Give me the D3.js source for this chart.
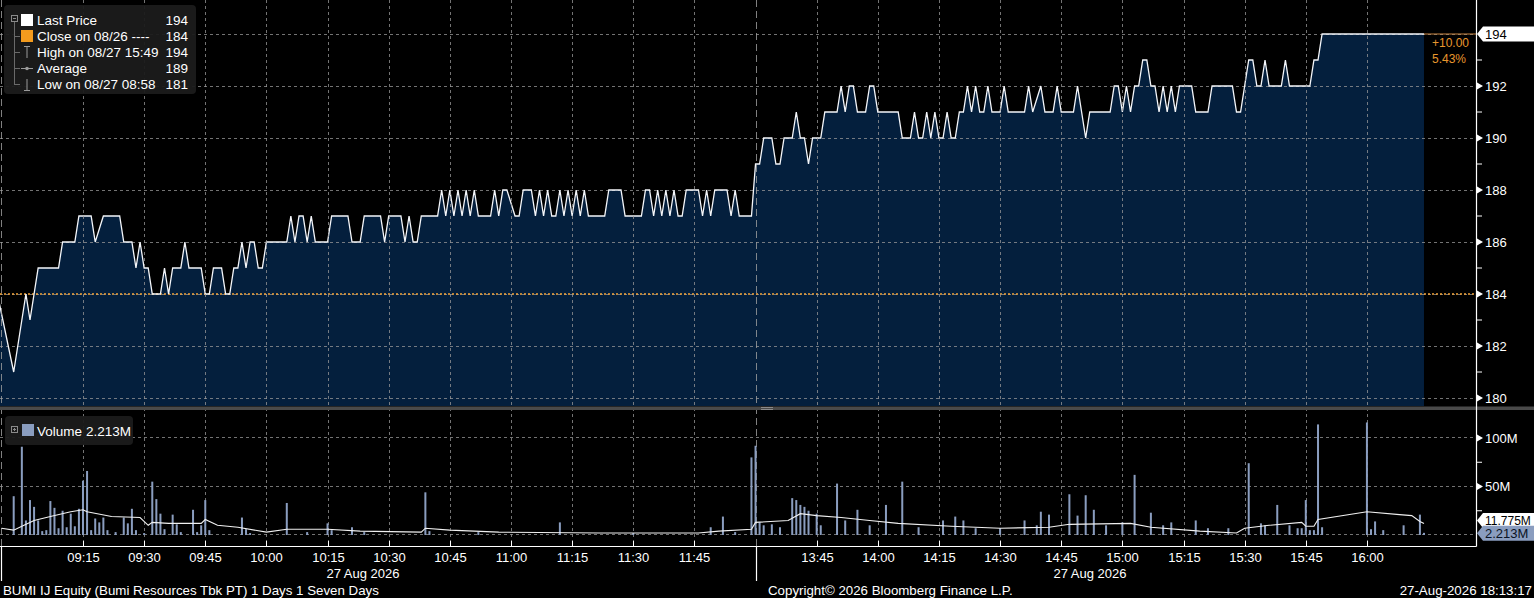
<!DOCTYPE html>
<html><head><meta charset="utf-8">
<script src="https://cdn.jsdelivr.net/npm/d3@7/dist/d3.min.js"></script>
<style>
html,body{margin:0;padding:0;background:#000;overflow:hidden;}
svg{display:block;}
text{font-family:"Liberation Sans",Arial,sans-serif;}
</style></head><body>
<svg id="c" width="1534" height="598"></svg>
<script>
// ---------------- DATA ----------------
const pricePoints = [
["08:54",184],["08:58",181],["09:01",184],["09:02",183],["09:04",185],["09:09",185],["09:10",186],["09:13",186],["09:14",187],["09:17",187],["09:18",186],["09:20",187],["09:24",187],["09:25",186],["09:27",186],["09:28",185],["09:29",186],["09:30",185],["09:31",185],["09:32",184],["09:34",184],["09:35",185],["09:36",184],["09:37",185],["09:39",185],["09:40",186],["09:41",185],["09:44",185],["09:45",184],["09:46",184],["09:47",185],["09:49",185],["09:50",184],["09:51",184],["09:52",185],["09:53",185],["09:54",186],["09:55",185],["09:56",186],["09:57",186],["09:58",185],["09:59",185],["10:00",186],["10:05",186],["10:06",187],["10:07",186],["10:08",187],["10:09",187],["10:10",186],["10:11",187],["10:12",186],["10:15",186],["10:16",187],["10:20",187],["10:21",186],["10:23",186],["10:24",187],["10:28",187],["10:29",186],["10:30",187],["10:33",187],["10:34",186],["10:35",187],["10:36",186],["10:37",186],["10:38",187],["10:42",187],["10:43",188],["10:44",187],["10:45",188],["10:46",187],["10:47",188],["10:48",187],["10:49",188],["10:50",187],["10:51",188],["10:52",187],["10:55",187],["10:56",188],["10:57",187],["10:58",188],["10:59",188],["11:01",187],["11:02",187],["11:03",188],["11:05",188],["11:06",187],["11:07",188],["11:08",187],["11:09",188],["11:10",187],["11:11",187],["11:12",188],["11:13",187],["11:14",188],["11:15",187],["11:16",188],["11:17",187],["11:18",188],["11:19",187],["11:23",187],["11:24",188],["11:27",188],["11:28",187],["11:32",187],["11:33",188],["11:34",188],["11:35",187],["11:36",188],["11:37",187],["11:38",188],["11:39",187],["11:40",188],["11:41",187],["11:42",187],["11:43",188],["11:46",188],["11:47",187],["11:48",188],["11:49",187],["11:50",188],["11:53",188],["11:54",187],["11:55",188],["11:56",187],["11:59",187],
["13:30",189],["13:31",189],["13:32",190],["13:34",190],["13:35",189],["13:36",189],["13:37",190],["13:39",190],["13:40",191],["13:41",190],["13:42",190],["13:43",189],["13:44",190],["13:46",190],["13:47",191],["13:50",191],["13:51",192],["13:52",191],["13:53",192],["13:54",192],["13:55",191],["13:57",191],["13:58",192],["13:59",192],["14:00",191],["14:05",191],["14:06",190],["14:08",190],["14:09",191],["14:10",190],["14:11",190],["14:12",191],["14:13",190],["14:14",191],["14:15",190],["14:16",190],["14:17",191],["14:18",190],["14:19",190],["14:20",191],["14:21",191],["14:22",192],["14:23",191],["14:24",192],["14:25",191],["14:26",191],["14:27",192],["14:28",191],["14:30",191],["14:31",192],["14:32",191],["14:36",191],["14:37",192],["14:38",191],["14:40",192],["14:41",191],["14:43",191],["14:44",192],["14:45",191],["14:48",191],["14:49",192],["14:51",190],["14:52",191],["14:57",191],["14:58",192],["14:59",192],["15:00",191],["15:01",192],["15:02",191],["15:03",192],["15:04",192],["15:05",193],["15:06",193],["15:07",192],["15:08",192],["15:09",191],["15:10",192],["15:11",191],["15:12",192],["15:13",191],["15:14",192],["15:17",192],["15:18",191],["15:21",191],["15:22",192],["15:27",192],["15:28",191],["15:29",191],["15:30",192],["15:31",193],["15:32",193],["15:33",192],["15:34",192],["15:35",193],["15:36",192],["15:39",192],["15:40",193],["15:41",192],["15:46",192],["15:47",193],["15:48",193],["15:49",194],["16:14",194]
];
const prevClose = 184;
const lastPrice = 194;

const volTimes = ["08:58","09:00","09:01","09:02","09:03","09:04","09:05","09:06","09:07","09:08","09:09","09:10","09:11","09:12","09:13","09:14","09:15","09:16","09:17","09:18","09:19","09:20","09:21","09:23","09:25","09:26","09:27","09:28","09:30","09:32","09:33","09:34","09:35","09:37","09:38","09:39","09:42","09:43","09:44","09:45","09:46","09:54","09:55","09:56","10:05","10:10","10:15","10:16","10:21","10:24","10:39","10:40","10:52","11:12","11:30","11:49","11:52","11:55","11:59",
"13:30","13:31","13:32","13:34","13:36","13:39","13:40","13:41","13:42","13:43","13:45","13:46","13:50","13:52","13:55","13:58","14:02","14:06","14:10","14:16","14:19","14:21","14:24","14:30","14:36","14:39","14:40","14:42","14:47","14:49","14:51","14:53","14:56","15:00","15:03","15:07","15:10","15:12","15:18","15:21","15:26","15:31","15:34","15:35","15:38","15:41","15:43","15:44","15:45","15:46","15:47","15:48","15:49","16:00","16:01","16:02","16:04","16:09","16:13","16:14"];
const volValues = [40,91,15,36,29,15,4,5,35,28,7,25,8,22,9,27,56,66,5,17,13,18,5,3,18,12,27,5,2,55,37,22,6,21,11,3,26,3,10,36,5,18,6,2,33,3,12,5,8,3,44,4,3,13,2,8,19,3,80,
92,13,10,11,8,38,36,31,29,25,22,10,53,15,26,10,31,55,8,15,19,15,7,7,15,10,24,21,42,20,41,26,10,13,62,23,10,13,15,7,7,74,12,10,31,10,7,7,36,5,5,114,8,116,6,14,5,10,21,2.213];

const avgTimes = ["08:55","08:58","09:00","09:03","09:07","09:12","09:15","09:16","09:22","09:29","09:31","09:32","09:36","09:44","09:45","09:48","09:53","10:00","10:05","10:15","10:23","10:38","10:39","10:45","10:57","11:22","11:46","11:51","11:59",
"13:30","13:38","13:41","13:45","13:51","13:58","14:05","14:18","14:30","14:42","14:47","15:02","15:07","15:19","15:28","15:30","15:36","15:44","15:45","15:47","15:48","16:00","16:08","16:11","16:13","16:14"];
const avgValues = [7,5,9,15,19,24,26,24,19,18,10,13,12,12,16,10,8,3,6,6,4,3,7,5,3,2,2,4,6,
13,15,22,20,18,15,12,9,7,8,11,12,8,4,2,7,10,13,9,9,16,24,21,20,14,11.775];

const xTickLabels = ["09:15","09:30","09:45","10:00","10:15","10:30","10:45","11:00","11:15","11:30","11:45","13:45","14:00","14:15","14:30","14:45","15:00","15:15","15:30","15:45","16:00"];
const priceTicks = [180,182,184,186,188,190,192,194];
const priceMinorTicks = [181,183,185,187,189,191,193];
const volTicks = [50,100];
const volMinorTicks = [25,75];
const sessionStarts = ["08:55","13:30"];
const legendLabels = ["Last Price","Close on 08/26 ----","High on 08/27 15:49","Average","Low on 08/27 08:58"];
const legendValues = ["194","184","194","189","181"];
const dateLabel = "27 Aug 2026";
const footerLeft = "BUMI IJ Equity (Bumi Resources Tbk PT) 1 Days 1 Seven Days";
const footerMid = "Copyright\u00A9 2026 Bloomberg Finance L.P.";
const footerRight = "27-Aug-2026 18:13:17";

// ---------------- SCALES ----------------
// trading-minute axis (lunch break 12:00-13:30 collapsed)
function tm(s){const p=s.split(":").map(Number);const t=p[0]*60+p[1];
  return t>=13*60+30 ? t-(13*60+30)+185 : t-(8*60+55);}
const AX=1476;
const x=d3.scaleLinear().domain([-0.36,361.76]).range([0,AX]);
const yP=d3.scaleLinear().domain([180,194]).range([398,34]);
const yV=d3.scaleLinear().domain([0,100]).range([535,438]);
const PB=406, VT=410, VB=546;

const svg=d3.select("#c");
svg.append("rect").attr("width",1534).attr("height",598).attr("fill","#000");
const defs=svg.append("defs");
defs.append("clipPath").attr("id","cp").append("rect").attr("x",0).attr("y",0).attr("width",AX).attr("height",PB);
defs.append("clipPath").attr("id","cv").append("rect").attr("x",0).attr("y",VT).attr("width",AX).attr("height",VB-VT);

const gridCol="#9a9a9a";
// ---------------- PRICE PANEL ----------------
const gp=svg.append("g").attr("clip-path","url(#cp)");
gp.append("path").datum(pricePoints)
  .attr("d",d3.area().x(d=>x(tm(d[0]))).y0(PB).y1(d=>yP(d[1])))
  .attr("fill","#041f3d");
gp.selectAll(".hg").data(priceTicks).join("line")
  .attr("x1",0).attr("x2",AX).attr("y1",d=>Math.round(yP(d))+0.5).attr("y2",d=>Math.round(yP(d))+0.5)
  .attr("stroke",gridCol).attr("stroke-opacity",0.75).attr("stroke-dasharray","3,3");
const vg=svg.append("g");
vg.selectAll("line").data(xTickLabels).join("line")
  .attr("x1",d=>Math.round(x(tm(d)))+0.5).attr("x2",d=>Math.round(x(tm(d)))+0.5)
  .attr("y1",0).attr("y2",VB)
  .attr("stroke",gridCol).attr("stroke-opacity",0.75).attr("stroke-dasharray","3,3");
svg.selectAll(".sess").data(sessionStarts).join("line")
  .attr("x1",d=>Math.round(x(tm(d)))+0.5).attr("x2",d=>Math.round(x(tm(d)))+0.5)
  .attr("y1",0).attr("y2",VB)
  .attr("stroke","#a0a0a0").attr("stroke-opacity",0.8).attr("stroke-dasharray","7,4");
gp.append("line").attr("x1",0).attr("x2",AX).attr("y1",yP(prevClose)).attr("y2",yP(prevClose))
  .attr("stroke","#f2a43a").attr("stroke-width",1.5).attr("stroke-dasharray","2,2");
const lastP=pricePoints[pricePoints.length-1];
gp.append("line").attr("x1",x(tm(lastP[0]))).attr("x2",AX).attr("y1",yP(lastPrice)).attr("y2",yP(lastPrice))
  .attr("stroke","#c98542").attr("stroke-width",1.2);
gp.append("path").datum(pricePoints)
  .attr("d",d3.line().x(d=>x(tm(d[0]))).y(d=>yP(d[1])))
  .attr("fill","none").attr("stroke","#f4f6fa").attr("stroke-width",1.3).attr("stroke-linejoin","miter");

svg.append("text").attr("x",1432).attr("y",47).attr("fill","#e8972e").attr("font-size",12).text("+10.00");
svg.append("text").attr("x",1432).attr("y",63).attr("fill","#e8972e").attr("font-size",12).text("5.43%");

// ---------------- VOLUME PANEL ----------------
const gv=svg.append("g").attr("clip-path","url(#cv)");
gv.selectAll(".vh").data([0].concat(volTicks)).join("line")
  .attr("x1",0).attr("x2",AX).attr("y1",d=>Math.round(yV(d))-0.5).attr("y2",d=>Math.round(yV(d))-0.5)
  .attr("stroke",gridCol).attr("stroke-opacity",0.75).attr("stroke-dasharray","3,3");
const vols=volTimes.map((t,i)=>({t,v:volValues[i]}));
gv.selectAll(".bar").data(vols).join("rect")
  .attr("x",d=>x(tm(d.t))-1).attr("width",2)
  .attr("y",d=>yV(d.v)).attr("height",d=>yV(0)-yV(d.v))
  .attr("fill","#8a9dbf");
const avg=avgTimes.map((t,i)=>({t,v:avgValues[i]}));
gv.append("path").datum(avg)
  .attr("d",d3.line().x(d=>x(tm(d.t))).y(d=>yV(d.v)))
  .attr("fill","none").attr("stroke","#f0f0f0").attr("stroke-width",1.1);

svg.append("rect").attr("x",0).attr("y",406.5).attr("width",1534).attr("height",3.5).attr("fill","#4a4a4a");
svg.append("line").attr("x1",761).attr("x2",773).attr("y1",407.5).attr("y2",407.5).attr("stroke","#8a8a8a");
svg.append("line").attr("x1",761).attr("x2",773).attr("y1",409.5).attr("y2",409.5).attr("stroke","#8a8a8a");

// ---------------- RIGHT AXES ----------------
svg.append("line").attr("x1",AX+0.5).attr("x2",AX+0.5).attr("y1",0).attr("y2",VB+0.5).attr("stroke","#fff").attr("stroke-width",1.2);
function tri(g,y){g.append("path").attr("d",`M${AX+1},${y-3.5}L${AX+7},${y}L${AX+1},${y+3.5}Z`).attr("fill","#fff");}
const ra=svg.append("g");
priceTicks.filter(d=>d!==lastPrice).forEach(d=>{const y=yP(d);tri(ra,y);
  ra.append("text").attr("x",AX+9).attr("y",y).attr("dy","0.35em").attr("fill","#fff").attr("font-size",13).text(d);});
priceMinorTicks.forEach(d=>{ra.append("line").attr("x1",AX).attr("x2",AX+6).attr("y1",yP(d)).attr("y2",yP(d)).attr("stroke","#fff");});
volTicks.forEach(d=>{const y=yV(d);tri(ra,y);
  ra.append("text").attr("x",AX+9).attr("y",y).attr("dy","0.35em").attr("fill","#fff").attr("font-size",13).text(d+"M");});
volMinorTicks.forEach(d=>{ra.append("line").attr("x1",AX).attr("x2",AX+6).attr("y1",yV(d)).attr("y2",yV(d)).attr("stroke","#fff");});
function tag(y,fill,txt,tc,fs){
  ra.append("path").attr("d",`M${AX+1},${y}L${AX+7},${y-7.5}L1534,${y-7.5}L1534,${y+7.5}L${AX+7},${y+7.5}Z`).attr("fill",fill);
  ra.append("text").attr("x",AX+9).attr("y",y).attr("dy","0.35em").attr("fill",tc).attr("font-size",fs||13).text(txt);}
tag(yP(lastPrice),"#ffffff",String(lastPrice),"#000");
tag(yV(avgValues[avgValues.length-1])-3,"#ffffff","11.775M","#000",12);
tag(yV(volValues[volValues.length-1])+0.5,"#8a9dbf","2.213M","#0b1424");

// ---------------- BOTTOM AXIS ----------------
svg.append("line").attr("x1",0).attr("x2",AX+0.5).attr("y1",VB+0.5).attr("y2",VB+0.5).attr("stroke","#fff").attr("stroke-width",1.2);
const ba=svg.append("g");
xTickLabels.forEach(t=>{const xx=Math.round(x(tm(t)))+0.5;
  ba.append("line").attr("x1",xx).attr("x2",xx).attr("y1",VB-5).attr("y2",VB).attr("stroke","#fff");
  ba.append("text").attr("x",xx).attr("y",557).attr("dy","0.35em").attr("text-anchor","middle").attr("fill","#fff").attr("font-size",13).text(t);});
sessionStarts.forEach(t=>{const xx=Math.round(x(tm(t)))+0.5;
  ba.append("line").attr("x1",xx).attr("x2",xx).attr("y1",VB).attr("y2",581).attr("stroke","#fff").attr("stroke-width",1.2);});
ba.append("text").attr("x",363).attr("y",573).attr("dy","0.35em").attr("text-anchor","middle").attr("fill","#fff").attr("font-size",13).text(dateLabel);
ba.append("text").attr("x",1090).attr("y",573).attr("dy","0.35em").attr("text-anchor","middle").attr("fill","#fff").attr("font-size",13).text(dateLabel);
ba.append("text").attr("x",3).attr("y",590).attr("dy","0.35em").attr("fill","#fff").attr("font-size",13.3).text(footerLeft);
ba.append("text").attr("x",768).attr("y",590).attr("dy","0.35em").attr("fill","#fff").attr("font-size",13.3).text(footerMid);
ba.append("text").attr("x",1532).attr("y",590).attr("dy","0.35em").attr("text-anchor","end").attr("fill","#fff").attr("font-size",13.3).text(footerRight);

// ---------------- LEGENDS ----------------
const lg=svg.append("g");
lg.append("rect").attr("x",4).attr("y",5).attr("width",192).attr("height",89).attr("rx",4).attr("fill","#1b1b1b").attr("fill-opacity",0.95);
lg.append("rect").attr("x",11.5).attr("y",15.5).attr("width",6).attr("height",6).attr("fill","none").attr("stroke","#8a8a8a");
lg.append("line").attr("x1",13).attr("x2",16).attr("y1",18.5).attr("y2",18.5).attr("stroke","#8a8a8a");
lg.append("line").attr("x1",14.5).attr("x2",14.5).attr("y1",22).attr("y2",85).attr("stroke","#6a6a6a");
[36,52,68,84].forEach(y=>lg.append("line").attr("x1",14.5).attr("x2",20).attr("y1",y+0.5).attr("y2",y+0.5).attr("stroke","#6a6a6a"));
const rowY=[20.5,36.5,52.5,68.5,84.5];
lg.append("rect").attr("x",21).attr("y",14).attr("width",12).attr("height",12).attr("fill","#fff");
lg.append("rect").attr("x",21).attr("y",30).attr("width",12).attr("height",12).attr("fill","#f39b1e");
lg.append("path").attr("d","M24,46.5H30M27,46.5V58").attr("stroke","#9a9a9a").attr("fill","none");
lg.append("path").attr("d","M21,68.5H33").attr("stroke","#9a9a9a");
lg.append("circle").attr("cx",27).attr("cy",68.5).attr("r",1.8).attr("fill","#9a9a9a");
lg.append("path").attr("d","M27,79V90.5M24,90.5H30").attr("stroke","#9a9a9a").attr("fill","none");
legendLabels.forEach((l,i)=>{
  lg.append("text").attr("x",37).attr("y",rowY[i]).attr("dy","0.35em").attr("fill","#fff").attr("font-size",13.5).text(l);
  lg.append("text").attr("x",188).attr("y",rowY[i]).attr("dy","0.35em").attr("text-anchor","end").attr("fill","#fff").attr("font-size",13.5).text(legendValues[i]);
});
const vl=svg.append("g");
vl.append("rect").attr("x",5).attr("y",416).attr("width",128).attr("height",29).attr("rx",4).attr("fill","#1b1b1b").attr("fill-opacity",0.95);
vl.append("rect").attr("x",11.5).attr("y",426.5).attr("width",6).attr("height",6).attr("fill","none").attr("stroke","#8a8a8a");
vl.append("path").attr("d","M13,429.5H16M14.5,428V431").attr("stroke","#8a8a8a");
vl.append("rect").attr("x",22).attr("y",424).attr("width",12).attr("height",12).attr("fill","#8a9dbf");
vl.append("text").attr("x",37).attr("y",431).attr("dy","0.35em").attr("fill","#fff").attr("font-size",13.5).text("Volume");
vl.append("text").attr("x",86).attr("y",431).attr("dy","0.35em").attr("fill","#fff").attr("font-size",13.5).text("2.213M");
</script>
</body></html>
